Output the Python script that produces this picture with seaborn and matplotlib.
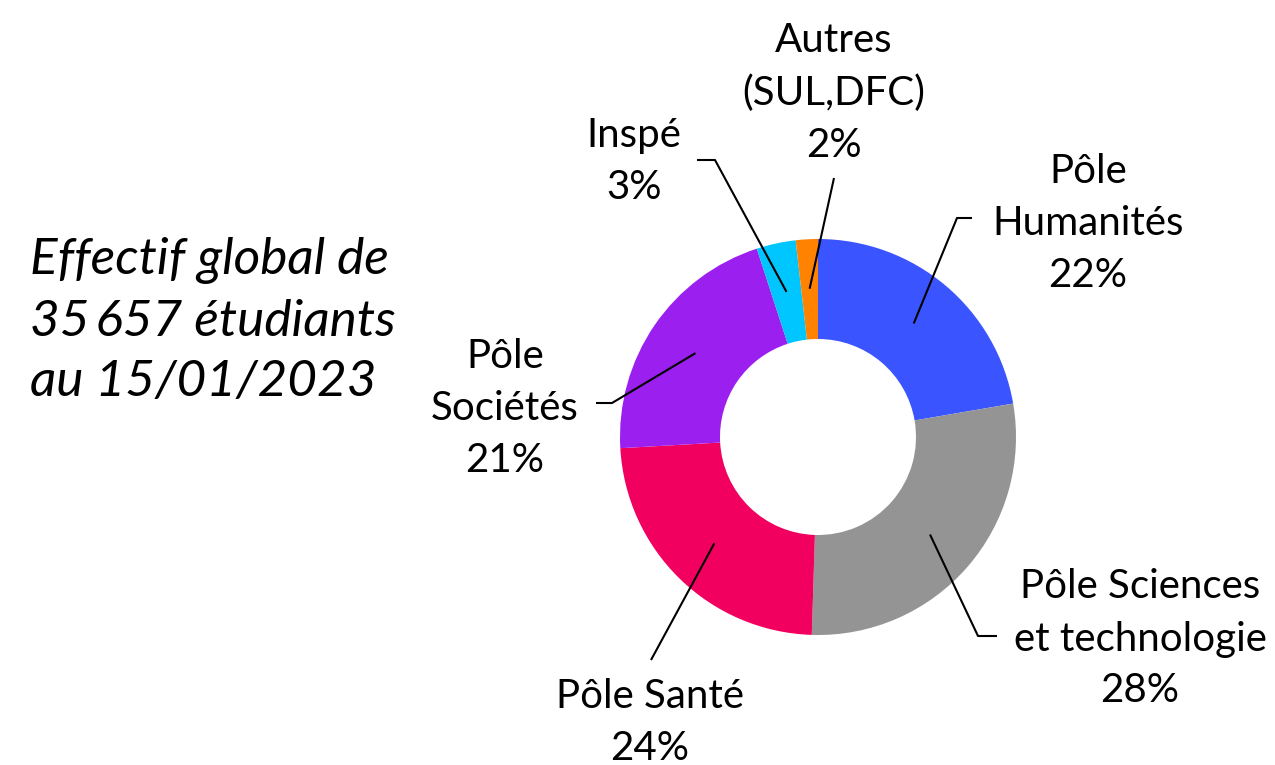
import numpy as np
import matplotlib.pyplot as plt
import seaborn as sns

# data
labels = ['Pôle\nHumanités', 'Pôle Sciences\net technologie', 'Pôle Santé',
          'Pôle\nSociétés', 'Inspé', 'Autres\n(SUL,DFC)']
shares = [22.3, 28.2, 23.6, 20.9, 3.2, 1.8]
colors = ['#3A55FF', '#949494', '#F20060', '#9B20F0', '#00C6FF', '#FF8200']
caption = 'Effectif global de\n35\u2009657 étudiants\nau 15/01/2023'

sns.set_theme(style='white')
plt.rcParams['font.family'] = ['Lato', 'DejaVu Sans']

W, H = 1275, 765
fig = plt.figure(figsize=(12.75, 7.65), dpi=100)
ax = fig.add_axes([0, 0, 1, 1])

# donut, drawn in pixel-like units
cx, cy, R = 818, H - 437, 198
wedges, _ = ax.pie(shares, colors=colors, startangle=90, counterclock=False,
                   radius=R, center=(cx, cy),
                   wedgeprops=dict(width=100, linewidth=0))
ax.set_xlim(0, W)
ax.set_ylim(0, H)
ax.axis('off')

# label layout (image pixel coords): text centre, leader elbow/end points
label_pos = [(1088, 223), (1140, 639), (650, 722), (505, 408), (634, 161), (834, 93)]
leaders = [[(957, 218), (972, 218)], [(978, 636), (997, 636)], [(651, 660)],
           [(612, 403), (596, 403)], [(715, 160), (697, 160)], [(834, 178)]]

for w, lab, s, (tx, ty), pts in zip(wedges, labels, shares, label_pos, leaders):
    mid = np.deg2rad((w.theta1 + w.theta2) / 2)
    x0 = cx + 0.75 * R * np.cos(mid)
    y0 = cy + 0.75 * R * np.sin(mid)
    xs = [x0] + [p[0] for p in pts]
    ys = [y0] + [H - p[1] for p in pts]
    ax.plot(xs, ys, color='black', lw=1.5, solid_capstyle='butt')
    ax.text(tx, H - ty, f'{lab}\n{round(s)}%', ha='center', va='center',
            fontsize=29, linespacing=1.5, color='black')

ax.text(30, H - 321, caption, ha='left', va='center', fontsize=37,
        style='italic', linespacing=1.4, color='black')

fig.savefig('out.png', dpi=100)
